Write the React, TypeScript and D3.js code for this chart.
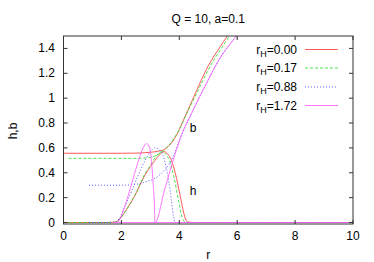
import React from "react";
import * as d3 from "d3";

const title = "Q = 10, a=0.1";
const rHLabels = ["0.00", "0.17", "0.88", "1.72"];
const colors = ["#ff3333", "#22dd22", "#3333ff", "#ff55ff"];
const dashes = ["", "3,2", "1,2", ""];
const xTicks = [0, 2, 4, 6, 8, 10];
const yTicks = [0, 0.2, 0.4, 0.6, 0.8, 1, 1.2, 1.4];

// h curves [r, h]
const hRed: [number, number][] = [[0, 0], [1.5, 0], [1.78, 0.003], [1.95, 0.03], [2.12, 0.085], [2.3, 0.15], [2.47, 0.22], [2.81, 0.38], [3.0, 0.45], [3.16, 0.5], [3.3, 0.54], [3.48, 0.57], [3.6, 0.55], [3.73, 0.5], [3.9, 0.36], [4.07, 0.17], [4.19, 0.045], [4.3, 0.004], [4.5, 0], [10, 0]];
const hGreen: [number, number][] = [[0.17, 0], [1.5, 0], [1.78, 0.003], [1.95, 0.03], [2.12, 0.085], [2.3, 0.15], [2.47, 0.22], [2.81, 0.39], [3.0, 0.46], [3.16, 0.52], [3.41, 0.57], [3.53, 0.55], [3.66, 0.5], [3.82, 0.36], [3.98, 0.17], [4.1, 0.04], [4.2, 0.004], [4.4, 0], [10, 0]];
const hBlue: [number, number][] = [[0.88, 0], [1.6, 0], [1.8, 0.005], [1.95, 0.04], [2.12, 0.13], [2.35, 0.25], [2.58, 0.38], [2.87, 0.52], [3.0, 0.57], [3.16, 0.6], [3.3, 0.585], [3.44, 0.54], [3.53, 0.46], [3.61, 0.37], [3.68, 0.26], [3.73, 0.17], [3.8, 0.05], [3.86, 0], [10, 0]];
const hMagenta: [number, number][] = [[1.72, 0], [1.86, 0], [1.95, 0.03], [2.1, 0.12], [2.24, 0.22], [2.4, 0.35], [2.58, 0.49], [2.75, 0.6], [2.87, 0.635], [2.98, 0.6], [3.04, 0.49], [3.1, 0.3], [3.14, 0.14], [3.16, 0], [10, 0]];

// b curves [r, b]
const bRed: [number, number][] = [[0, 0.557], [2.0, 0.557], [2.5, 0.558], [3.0, 0.565], [3.3, 0.575], [3.5, 0.59], [3.73, 0.64], [3.9, 0.7], [4.1, 0.8], [4.5, 1.01], [5.0, 1.26], [5.4, 1.41], [5.66, 1.5], [6.0, 1.6]];
const bGreen: [number, number][] = [[0.17, 0.516], [2.5, 0.516], [2.9, 0.52], [3.16, 0.535], [3.39, 0.565], [3.6, 0.61], [3.8, 0.67], [4.0, 0.75], [4.2, 0.85], [4.6, 1.04], [5.1, 1.27], [5.48, 1.41], [5.74, 1.5], [6.1, 1.6]];
const bBlue: [number, number][] = [[0.88, 0.3], [2.0, 0.3], [2.58, 0.31], [2.87, 0.33], [3.16, 0.355], [3.44, 0.41], [3.67, 0.476], [3.84, 0.56], [4.02, 0.67], [4.48, 0.905], [4.94, 1.12], [5.4, 1.32], [5.97, 1.5], [6.3, 1.6]];
const bMagenta: [number, number][] = [[1.72, 0], [3.16, 0], [3.5, 0.27], [3.84, 0.54], [4.02, 0.67], [4.48, 0.905], [4.94, 1.12], [5.4, 1.32], [5.97, 1.5], [6.3, 1.6]];

const hSeries = [hRed, hGreen, hBlue, hMagenta];
const bSeries = [bRed, bGreen, bBlue, bMagenta];

export default function App() {
  const W = 374, H = 262;
  const left = 63.5, right = 353, top = 36, bottom = 224;
  const x = d3.scaleLinear().domain([0, 10]).range([left, right]);
  const y = d3.scaleLinear().domain([-0.012, 1.5]).range([bottom, top]);
  const line = d3.line<[number, number]>().x(d => x(d[0])).y(d => y(d[1])).curve(d3.curveMonotoneX);
  const font = "'Liberation Sans', Arial, sans-serif";
  const tick = 4;
  const legendY = [49.5, 68, 87, 105.5];
  return (
    <svg width={W} height={H} style={{ position: "absolute", left: 0, top: 0, background: "#fff" }} fontFamily={font} fontSize={12}>
      <defs>
        <clipPath id="plot">
          <rect x={left} y={top} width={right - left} height={bottom - top} />
        </clipPath>
      </defs>
      <text x={(left + right) / 2} y={23} textAnchor="middle">{title}</text>
      <g clipPath="url(#plot)">
        {[0, 1, 2, 3].map(i => (
          <g key={i} fill="none" stroke={colors[i]} strokeWidth={1} strokeDasharray={dashes[i] || undefined} opacity={0.8}>
            <path d={line(bSeries[i]) || ""} />
            <path d={line(hSeries[i]) || ""} />
          </g>
        ))}
      </g>
      <text x={193} y={132} textAnchor="middle">b</text>
      <text x={193} y={195} textAnchor="middle">h</text>
      {rHLabels.map((lab, i) => (
        <g key={lab}>
          <text x={297} y={legendY[i] + 4} textAnchor="end">
            <tspan>r</tspan>
            <tspan dy={3} fontSize={9}>H</tspan>
            <tspan dy={-3}>={lab}</tspan>
          </text>
          <line x1={305} x2={338} y1={legendY[i]} y2={legendY[i]} stroke={colors[i]} strokeWidth={1} strokeDasharray={dashes[i] || undefined} opacity={0.8} />
        </g>
      ))}
      <g stroke="#333" strokeWidth={1}>
        {xTicks.map(t => (
          <g key={"x" + t}>
            <line x1={x(t)} x2={x(t)} y1={bottom} y2={bottom - tick} />
            <line x1={x(t)} x2={x(t)} y1={top} y2={top + tick} />
          </g>
        ))}
        {yTicks.map(t => (
          <g key={"y" + t}>
            <line x1={left} x2={left + tick} y1={y(t)} y2={y(t)} />
            <line x1={right} x2={right - tick} y1={y(t)} y2={y(t)} />
          </g>
        ))}
      </g>
      <rect x={left} y={top} width={right - left} height={bottom - top} fill="none" stroke="#333" strokeWidth={1} />
      {xTicks.map(t => (
        <text key={"xl" + t} x={x(t)} y={240} textAnchor="middle">{t}</text>
      ))}
      {yTicks.map(t => (
        <text key={"yl" + t} x={55} y={y(t) + 4} textAnchor="end">{d3.format("~g")(t)}</text>
      ))}
      <text x={(left + right) / 2} y={259} textAnchor="middle">r</text>
      <text transform={`translate(17,131) rotate(-90)`} textAnchor="middle">h,b</text>
    </svg>
  );
}
